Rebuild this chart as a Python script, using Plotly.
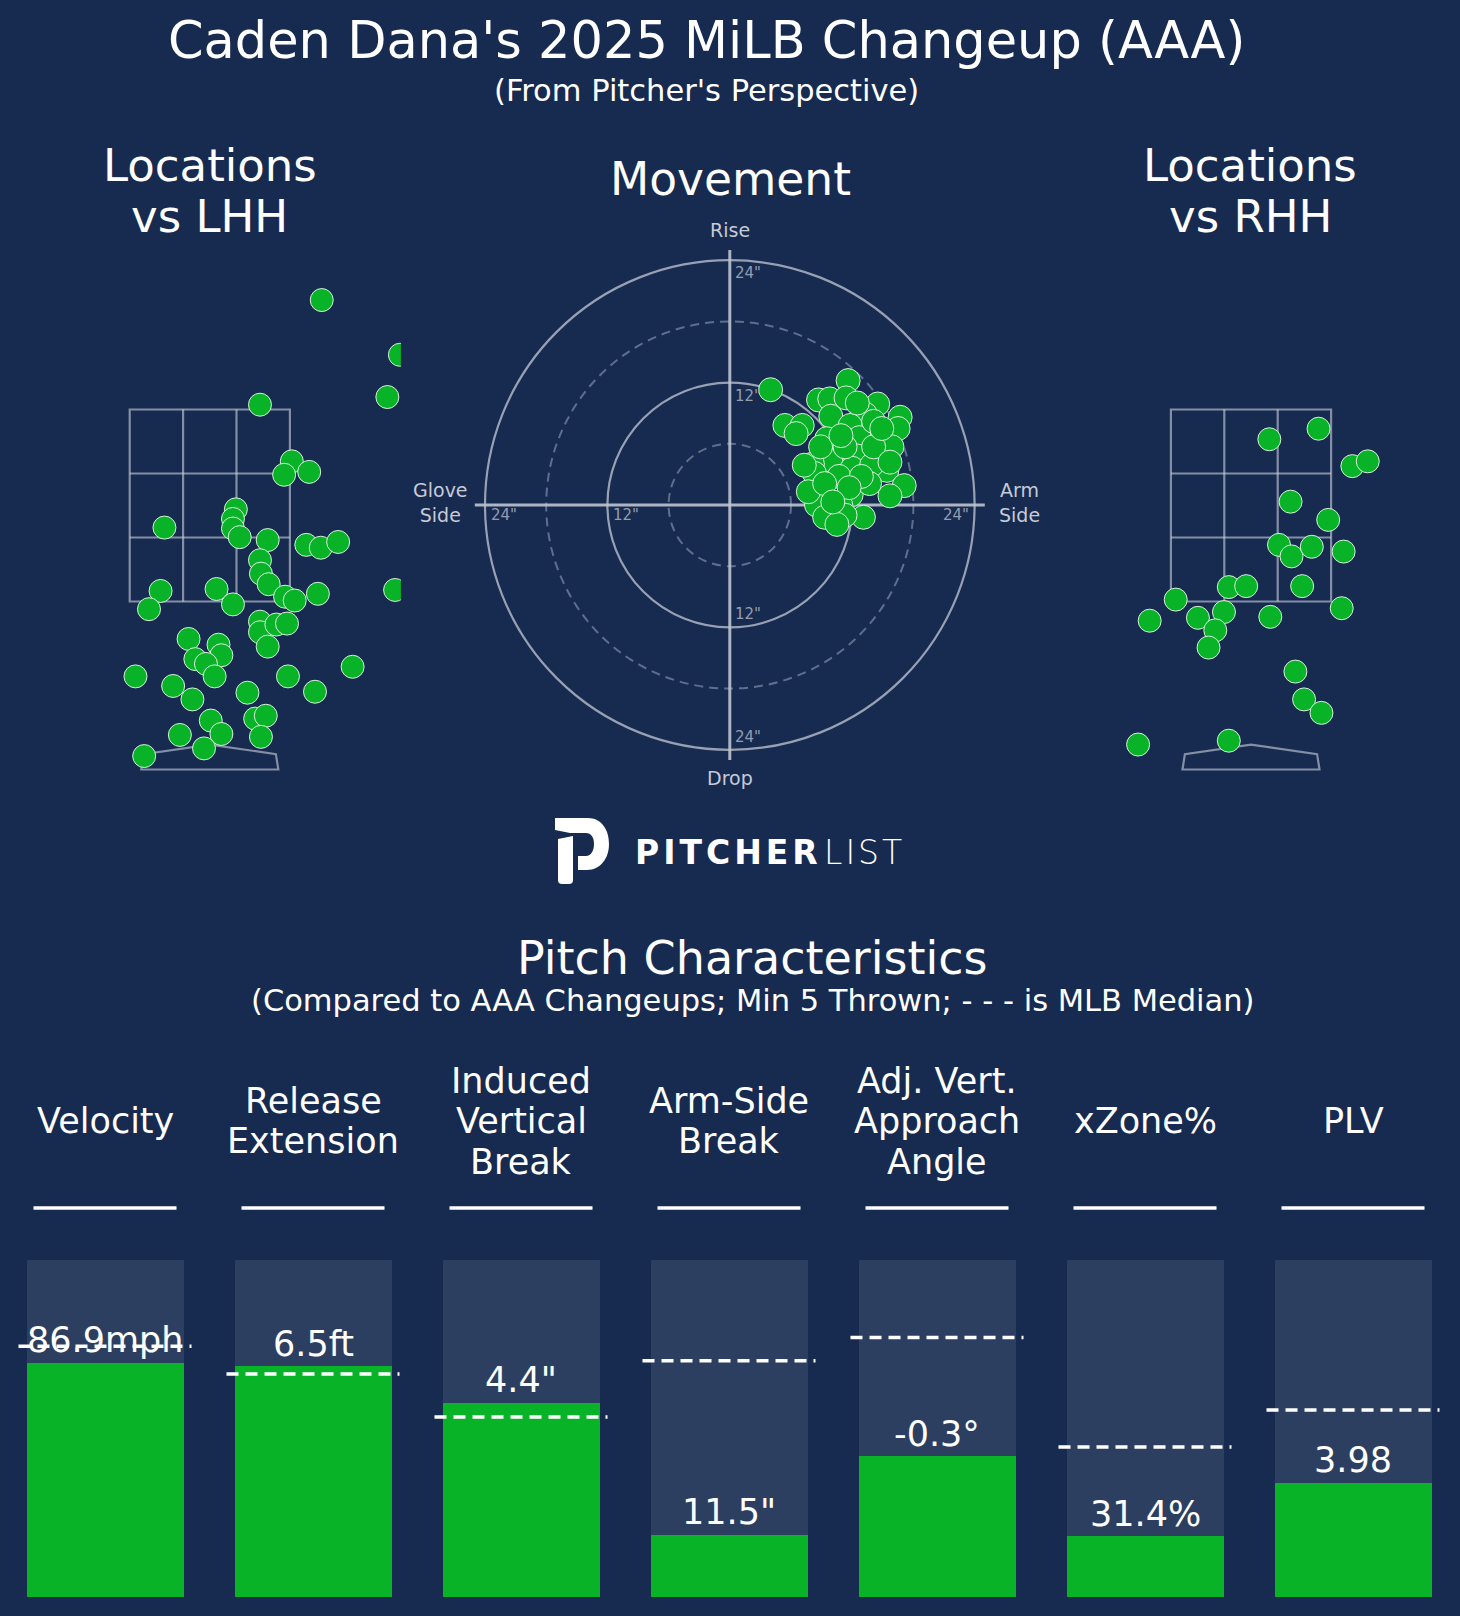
import plotly.graph_objects as go

W, H = 1460, 1616
BG = "#172a50"
GREEN = "#08b328"
BARBG = "#2c3f61"
EDGE = "rgba(225,245,228,0.95)"
FONT = "DejaVu Sans"

# ---------------- data ----------------
# Movement (inches): horizontal break (arm side +), induced vertical break
mov_hb = [4.0, 5.4, 7.1, 6.5, 11.6, 8.7, 9.8, 11.4, 14.5, 16.7, 16.5, 13.3, 9.9, 11.8, 12.7,
          9.5, 15.9, 14.1, 12.5, 9.9, 8.1, 8.3, 12.0, 15.4, 17.1, 15.7, 11.9, 9.2, 8.5, 10.9,
          9.3, 13.1, 11.3, 10.5, 13.9, 10.7, 13.7, 7.7, 8.9, 11.3, 14.1, 14.9, 10.9, 12.9, 9.3,
          11.7, 10.1, 12.5, 15.7, 7.3]
mov_ivb = [11.3, 7.8, 7.8, 7.0, 12.2, 10.3, 10.4, 10.5, 9.9, 8.6, 7.5, 8.9, 8.7, 7.8, 6.6,
           6.5, 5.7, 8.2, 4.8, 4.4, 4.0, 3.1, 3.6, 3.4, 1.9, 0.9, 1.0, 0.6, 0.0, -0.1,
           -1.2, -1.2, -1.0, -1.9, 3.9, 2.8, 2.1, 1.3, 5.7, 5.7, 5.7, 7.5, 6.8, 2.8, 2.1,
           1.7, 0.3, 10.0, 4.2, 3.9]

# Locations vs LHH (feet)
lhh_x = [1.16, 1.97, 1.84, 0.52, 0.85, 0.77, 1.03, 0.27, 0.24, 0.24, 0.31, -0.47, 0.60, 1.00, 1.15,
         1.33, 0.52, 0.53, 0.61, 0.78, 0.88, 1.12, 1.92, -0.51, -0.63, 0.07, 0.24, 0.52, 0.52, 0.69,
         0.80, 0.60, -0.22, 0.09, 0.12, -0.15, -0.04, 0.05, -0.77, -0.38, -0.18, 0.39, 0.81, 1.09, 1.48,
         0.01, 0.12, -0.31, -0.06, -0.68, 0.47, 0.58, 0.53]
lhh_z = [4.64, 4.07, 3.63, 3.55, 2.96, 2.82, 2.85, 2.46, 2.36, 2.26, 2.17, 2.27, 2.14, 2.09, 2.06,
         2.12, 1.93, 1.79, 1.68, 1.55, 1.51, 1.58, 1.62, 1.61, 1.42, 1.63, 1.47, 1.29, 1.18, 1.26,
         1.27, 1.03, 1.11, 1.05, 0.94, 0.90, 0.85, 0.72, 0.72, 0.62, 0.48, 0.55, 0.72, 0.56, 0.82,
         0.26, 0.12, 0.11, -0.03, -0.11, 0.28, 0.31, 0.09]

# Locations vs RHH (feet)
rhh_x = [0.19, 0.70, 1.05, 1.21, 0.41, 0.80, 0.29, 0.42, 0.63, 0.96, -0.23, -0.05, 0.53,
         -0.78, -1.05, -0.55, -0.28, -0.37, -0.44, 0.20, 0.94, 0.46, 0.55, 0.73, -1.17, -0.23]
rhh_z = [3.19, 3.30, 2.91, 2.96, 2.54, 2.35, 2.09, 1.97, 2.07, 2.02, 1.65, 1.66, 1.66,
         1.52, 1.30, 1.33, 1.39, 1.20, 1.02, 1.34, 1.43, 0.77, 0.48, 0.34, 0.01, 0.05]

# Pitch characteristics
metrics = ["Velocity", "Release\nExtension", "Induced\nVertical\nBreak", "Arm-Side\nBreak",
           "Adj. Vert.\nApproach\nAngle", "xZone%", "PLV"]
value_labels = ["86.9mph", "6.5ft", "4.4\"", "11.5\"", "-0.3°", "31.4%", "3.98"]
percentiles = [69.5, 68.5, 57.6, 18.4, 41.7, 18.0, 33.9]
mlb_median_pct = [74.4, 66.2, 53.4, 70.1, 77.0, 44.5, 55.5]
pct_max = 100

ring_radii = [6, 12, 18, 24]
ring_dashed = [True, False, True, False]

# zone / plate geometry (feet)
zone_x = [-0.83, 0.83]
zone_z = [1.5, 3.5]
plate_x = [-0.71, -0.685, 0.0, 0.685, 0.71]
plate_z = [-0.25, -0.09, 0.01, -0.09, -0.25]


# ---------------- helpers ----------------
def px_x(p):
    return p / W


def px_y(p):
    return 1 - p / H


fig = go.Figure()

# ---------- axes layout ----------
LOC_SCALE_X = 96.5
LOC_SCALE_Y = 96.0
LOC_XR = 1.98
LOC_YR = [-0.5, 5.0]
LOC_TOP = 409.5 - (LOC_YR[1] - zone_z[1]) * LOC_SCALE_Y
LOC_BOT = 409.5 + (zone_z[1] - LOC_YR[0]) * LOC_SCALE_Y


def loc_axes(cx):
    xd = [px_x(cx - LOC_XR * LOC_SCALE_X), px_x(cx + LOC_XR * LOC_SCALE_X)]
    yd = [px_y(LOC_BOT), px_y(LOC_TOP)]
    return xd, yd


lhh_xd, lhh_yd = loc_axes(209.8)
rhh_xd, rhh_yd = loc_axes(1251.0)

MCX, MCY, MSC, MR = 729.8, 505.0, 10.2, 26.0
mov_xd = [px_x(MCX - MR * MSC), px_x(MCX + MR * MSC)]
mov_yd = [px_y(MCY + MR * MSC), px_y(MCY - MR * MSC)]

BAR_C0, BAR_STEP, BAR_W = 105.0, 208.0, 157.0
BAR_BASE, BAR_TOP = 1597.0, 1260.0
bscale = (BAR_BASE - BAR_TOP) / pct_max
bar_xr = [(0 - BAR_C0) / BAR_STEP, (W - BAR_C0) / BAR_STEP]
bar_dom_top, bar_dom_bot = 1240.0, 1612.0
bar_yr = [(BAR_BASE - bar_dom_bot) / bscale, (BAR_BASE - bar_dom_top) / bscale]

hid = dict(visible=False, fixedrange=True, showgrid=False, zeroline=False)
fig.update_layout(
    xaxis=dict(domain=lhh_xd, range=[-LOC_XR, LOC_XR], anchor="y", **hid),
    yaxis=dict(domain=lhh_yd, range=LOC_YR, anchor="x", **hid),
    xaxis2=dict(domain=mov_xd, range=[-MR, MR], anchor="y2", **hid),
    yaxis2=dict(domain=mov_yd, range=[-MR, MR], anchor="x2", **hid),
    xaxis3=dict(domain=rhh_xd, range=[-LOC_XR, LOC_XR], anchor="y3", **hid),
    yaxis3=dict(domain=rhh_yd, range=LOC_YR, anchor="x3", **hid),
    xaxis4=dict(domain=[0, 1], range=bar_xr, anchor="y4", **hid),
    yaxis4=dict(domain=[px_y(bar_dom_bot), px_y(bar_dom_top)], range=bar_yr, anchor="x4", **hid),
)

shapes = []
annotations = []

# ---------- location panels ----------
ZONE_COL = "rgba(205,210,222,0.6)"
for xa, ya in [("x", "y"), ("x3", "y3")]:
    shapes.append(dict(type="rect", xref=xa, yref=ya, x0=zone_x[0], x1=zone_x[1],
                       y0=zone_z[0], y1=zone_z[1], line=dict(color=ZONE_COL, width=2.2), layer="below"))
    for k in (1, 2):
        xv = zone_x[0] + (zone_x[1] - zone_x[0]) * k / 3
        zv = zone_z[0] + (zone_z[1] - zone_z[0]) * k / 3
        shapes.append(dict(type="line", xref=xa, yref=ya, x0=xv, x1=xv, y0=zone_z[0], y1=zone_z[1],
                           line=dict(color=ZONE_COL, width=2.2), layer="below"))
        shapes.append(dict(type="line", xref=xa, yref=ya, x0=zone_x[0], x1=zone_x[1], y0=zv, y1=zv,
                           line=dict(color=ZONE_COL, width=2.2), layer="below"))
    path = "M " + " L ".join(f"{a},{b}" for a, b in zip(plate_x, plate_z)) + " Z"
    shapes.append(dict(type="path", xref=xa, yref=ya, path=path,
                       line=dict(color=ZONE_COL, width=2.2), layer="below"))

marker_loc = dict(size=23, color=GREEN, line=dict(color=EDGE, width=1))
fig.add_trace(go.Scatter(x=lhh_x, y=lhh_z, mode="markers", marker=marker_loc,
                         xaxis="x", yaxis="y", hoverinfo="skip"))
fig.add_trace(go.Scatter(x=rhh_x, y=rhh_z, mode="markers", marker=marker_loc,
                         xaxis="x3", yaxis="y3", hoverinfo="skip"))

# ---------- movement panel ----------
for r, dashed in zip(ring_radii, ring_dashed):
    if dashed:
        ln = dict(color="rgba(120,134,160,0.75)", width=2, dash="9px,6px")
    else:
        ln = dict(color="rgba(175,182,198,0.85)", width=2.2)
    shapes.append(dict(type="circle", xref="x2", yref="y2", x0=-r, x1=r, y0=-r, y1=r,
                       line=ln, layer="below"))
AX_COL = "rgba(190,196,208,0.9)"
shapes.append(dict(type="line", xref="x2", yref="y2", x0=-25, x1=25, y0=0, y1=0,
                   line=dict(color=AX_COL, width=3), layer="below"))
shapes.append(dict(type="line", xref="x2", yref="y2", x0=0, x1=0, y0=-25, y1=25,
                   line=dict(color=AX_COL, width=3), layer="below"))

fig.add_trace(go.Scatter(x=mov_hb, y=mov_ivb, mode="markers",
                         marker=dict(size=24, color=GREEN, line=dict(color=EDGE, width=1)),
                         xaxis="x2", yaxis="y2", hoverinfo="skip"))

LBL_COL = "#c6cbd6"
TICK_COL = "#939db0"
# direction labels (placed in paper space, converted from inches through the panel scale)
for txt, xin, yin in [("Rise", 0, 27.0), ("Drop", 0, -26.8), ("Glove<br>Side", -28.4, 0.2),
                      ("Arm<br>Side", 28.4, 0.2)]:
    annotations.append(dict(text=txt, x=px_x(MCX + xin * MSC), y=px_y(MCY - yin * MSC),
                            xref="paper", yref="paper", showarrow=False,
                            font=dict(family=FONT, size=19, color=LBL_COL),
                            xanchor="center", yanchor="middle"))
for r in (12, 24):
    for sgn in (1, -1):
        annotations.append(dict(text=f"{r}\"", x=0.35, y=sgn * (r - 1.3), xref="x2", yref="y2",
                                showarrow=False, font=dict(family=FONT, size=15, color=TICK_COL),
                                xanchor="left", yanchor="middle"))
for txt, x, xa in [("24\"", -23.6, "left"), ("12\"", -11.6, "left"), ("24\"", 23.6, "right")]:
    annotations.append(dict(text=txt, x=x, y=-1.0, xref="x2", yref="y2", showarrow=False,
                            font=dict(family=FONT, size=15, color=TICK_COL),
                            xanchor=xa, yanchor="middle"))

# ---------- bars ----------
idx = list(range(len(metrics)))
wcat = BAR_W / BAR_STEP
fig.add_trace(go.Bar(x=idx, y=[pct_max] * len(idx), width=wcat, marker=dict(color=BARBG, line=dict(width=0)),
                     xaxis="x4", yaxis="y4", hoverinfo="skip"))
fig.add_trace(go.Bar(x=idx, y=percentiles, width=wcat, marker=dict(color=GREEN, line=dict(width=0)),
                     xaxis="x4", yaxis="y4", hoverinfo="skip"))

half_dash = 86.5 / BAR_STEP
half_ul = 71.5 / BAR_STEP
for i in idx:
    shapes.append(dict(type="line", xref="x4", yref="y4", x0=i - half_dash, x1=i + half_dash,
                       y0=mlb_median_pct[i], y1=mlb_median_pct[i],
                       line=dict(color="white", width=3.5, dash="12px,7px"), layer="above"))
    shapes.append(dict(type="line", xref="x4", yref="paper", x0=i - half_ul, x1=i + half_ul,
                       y0=px_y(1208), y1=px_y(1208), line=dict(color="white", width=3.5)))
    lines = metrics[i].split("\n")
    n = len(lines)
    for j, line in enumerate(lines):
        ypx = 1121 + (j - (n - 1) / 2) * 40.5
        annotations.append(dict(text=line, x=i, xref="x4", y=px_y(ypx), yref="paper",
                                showarrow=False, font=dict(family=FONT, size=35, color="white"),
                                xanchor="center", yanchor="middle"))
    annotations.append(dict(text=value_labels[i], x=i, y=percentiles[i], xref="x4", yref="y4",
                            yshift=22.5, showarrow=False,
                            font=dict(family=FONT, size=35, color="white"),
                            xanchor="center", yanchor="middle"))


# ---------- titles ----------
def ptext(text, x, y, size, color="white", family=FONT, weight=None, xanchor="center"):
    f = dict(family=family, size=size, color=color)
    if weight is not None:
        f["weight"] = weight
    annotations.append(dict(text=text, x=px_x(x), y=px_y(y), xref="paper", yref="paper",
                            showarrow=False, font=f, xanchor=xanchor, yanchor="middle"))


ptext("Caden Dana's 2025 MiLB Changeup (AAA)", 706, 40, 51)
ptext("(From Pitcher's Perspective)", 706, 90, 30.5)
ptext("Locations", 209.6, 166, 45)
ptext("vs LHH", 209.6, 216, 45)
ptext("Movement", 730, 180, 45.5)
ptext("Locations", 1250, 166, 45)
ptext("vs RHH", 1250, 216, 45)
ptext("Pitch Characteristics", 752.5, 958, 46)
ptext("(Compared to AAA Changeups; Min 5 Thrown; - - - is MLB Median)", 752.5, 1000, 30.5)


# ---------- logo ----------
def pp(x, y):
    return f"{px_x(x):.5f},{px_y(y):.5f}"


logo_bowl = ("M " + pp(555, 818) + " L " + pp(588, 818) +
             " C " + pp(601, 818) + " " + pp(609, 829) + " " + pp(609, 844) +
             " C " + pp(609, 859) + " " + pp(600, 870) + " " + pp(587, 870) +
             " L " + pp(578, 870) + " L " + pp(578, 856) + " L " + pp(586, 856) +
             " C " + pp(591, 856) + " " + pp(594, 851) + " " + pp(594, 844) +
             " C " + pp(594, 837) + " " + pp(591, 833) + " " + pp(586, 833) +
             " L " + pp(570, 833) + " L " + pp(555, 830) + " Z")
logo_stem = ("M " + pp(558, 839) + " L " + pp(573, 836) + " L " + pp(573, 880) +
             " Q " + pp(573, 884) + " " + pp(569, 884) + " L " + pp(562, 884) +
             " Q " + pp(558, 884) + " " + pp(558, 880) + " Z")
for pth in (logo_bowl, logo_stem):
    shapes.append(dict(type="path", xref="paper", yref="paper", path=pth,
                       fillcolor="white", line=dict(width=0)))

ptext('<span style="letter-spacing:4px">PITCHE</span>R', 633, 852, 33, weight=700, xanchor="left")
ptext('<span style="letter-spacing:3px">LIS</span>T', 822, 852, 33, weight=200, xanchor="left")

fig.update_layout(
    width=W, height=H,
    margin=dict(l=0, r=0, t=0, b=0),
    paper_bgcolor=BG, plot_bgcolor="rgba(0,0,0,0)",
    showlegend=False, barmode="overlay", bargap=0,
    shapes=shapes, annotations=annotations,
)

page_js = ("document.body.style.margin='0';document.body.style.padding='0';"
           "document.body.style.background='%s';document.documentElement.style.background='%s';" % (BG, BG))
fig.write_html("out.html", post_script=page_js, config={"displayModeBar": False})
